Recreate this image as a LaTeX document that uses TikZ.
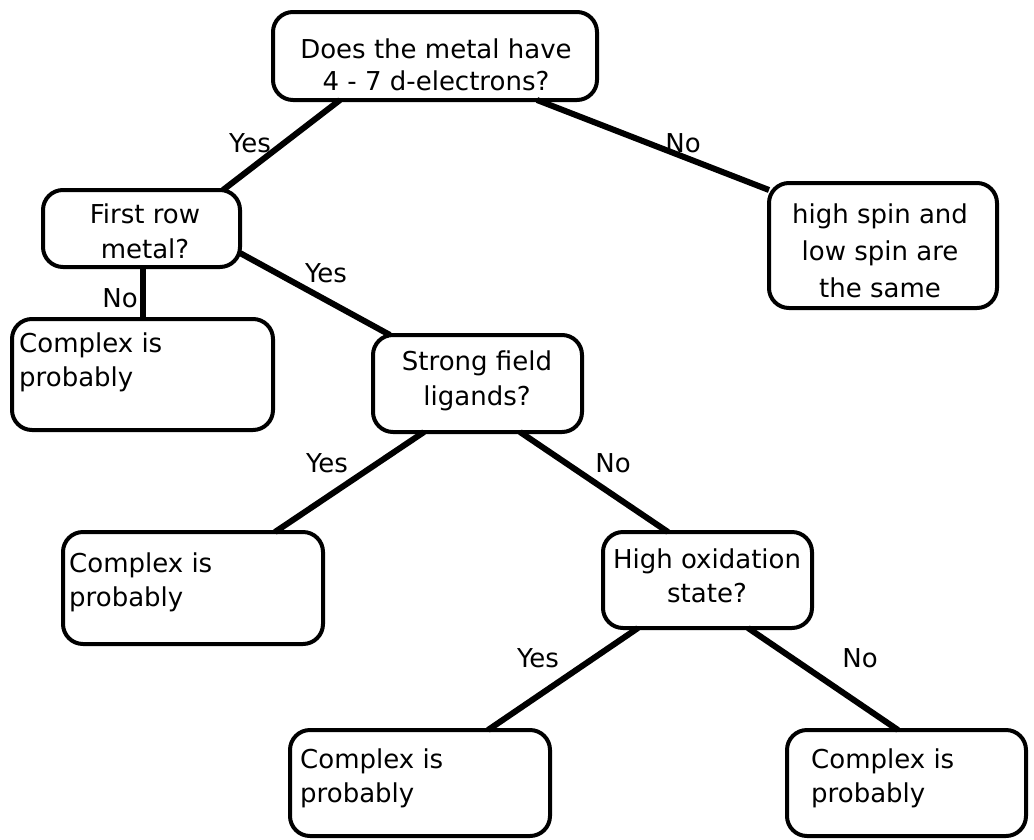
\documentclass[tikz,border=0pt]{standalone}
\usepackage{fontspec}
\setmainfont{DejaVu Sans}
\usetikzlibrary{calc}
\begin{document}
\begin{tikzpicture}[x=1pt,y=-1pt,
 box/.style={draw, line width=4pt, rounded corners=20pt, inner sep=0pt, outer sep=0pt},
 txt/.style={inner sep=0pt, font=\fontsize{26}{34}\selectfont},
 lbl/.style={inner sep=0pt, font=\fontsize{26}{34}\selectfont, anchor=base},
 conn/.style={line width=6pt}]
\fill[white] (0,0) rectangle (1034,839);
\useasboundingbox (0,0) rectangle (1034,839);
% boxes
\node[box, minimum width=324pt, minimum height=88pt] (A) at (435,56) {};
\node[box, minimum width=197pt, minimum height=77pt] (B) at (141.5,228.5) {};
\node[box, minimum width=228pt, minimum height=125pt] (C) at (883,245.5) {};
\node[box, minimum width=261pt, minimum height=111pt] (D) at (142.5,374.5) {};
\node[box, minimum width=209pt, minimum height=97pt] (E) at (477.5,383.5) {};
\node[box, minimum width=260pt, minimum height=112pt] (F) at (193,588) {};
\node[box, minimum width=209pt, minimum height=96pt] (G) at (707.5,580) {};
\node[box, minimum width=260pt, minimum height=106pt] (H) at (420,783) {};
\node[box, minimum width=239pt, minimum height=106pt] (I) at (906.5,783) {};
% texts (anchor base = baseline of last line)
\node[txt, align=center, anchor=base] (At) at (436,90) {Does the metal have\\[-2pt]4 - 7 d-electrons?};
\node[txt, align=center, anchor=base] (Bt) at (145,258) {First row\\[1pt]metal?};
\node[txt, align=center, anchor=base] (Ct) at (880,297) {high spin and\\[3pt]low spin are\\[3pt]the same};
\node[txt, align=left, anchor=base west] (Dt) at (19,386) {Complex is\\probably};
\node[txt, align=center, anchor=base] (Et) at (477,405) {Strong field\\[1pt]ligands?};
\node[txt, align=left, anchor=base west] (Ft) at (69,606) {Complex is\\probably};
\node[txt, align=center, anchor=base] (Gt) at (707,602) {High oxidation\\state?};
\node[txt, align=left, anchor=base west] (Ht) at (300,802) {Complex is\\probably};
\node[txt, align=left, anchor=base west] (It) at (811,802) {Complex is\\probably};
% connectors
\draw[conn] ($(A.south)+(-95,0)$) -- ($(B.north)+(81.5,0)$);
\draw[conn] ($(A.south)+(102,0)$) -- ($(C.north west)+(0,7)$);
\draw[conn] ($(B.south west)+(100,0)$) -- ($(D.north west)+(131,0)$);
\draw[conn] ($(B.south east)+(0,-14)$) -- ($(E.north west)+(17,0)$);
\draw[conn] ($(E.south west)+(51,0)$) -- ($(F.north east)+(-48,0)$);
\draw[conn] ($(E.south east)+(-62,0)$) -- ($(G.north west)+(65,0)$);
\draw[conn] ($(G.south west)+(35,0)$) -- ($(H.north east)+(-62,0)$);
\draw[conn] ($(G.south east)+(-64,0)$) -- ($(I.north west)+(111,0)$);
% labels
\node[lbl] (L1) at (250,152) {Yes};
\node[lbl] (L2) at (683,152) {No};
\node[lbl] (L3) at (120,307) {No};
\node[lbl] (L4) at (326,282) {Yes};
\node[lbl] (L5) at (327,472) {Yes};
\node[lbl] (L6) at (613,472) {No};
\node[lbl] (L7) at (538,667) {Yes};
\node[lbl] (L8) at (860,667) {No};
\end{tikzpicture}
\end{document}
